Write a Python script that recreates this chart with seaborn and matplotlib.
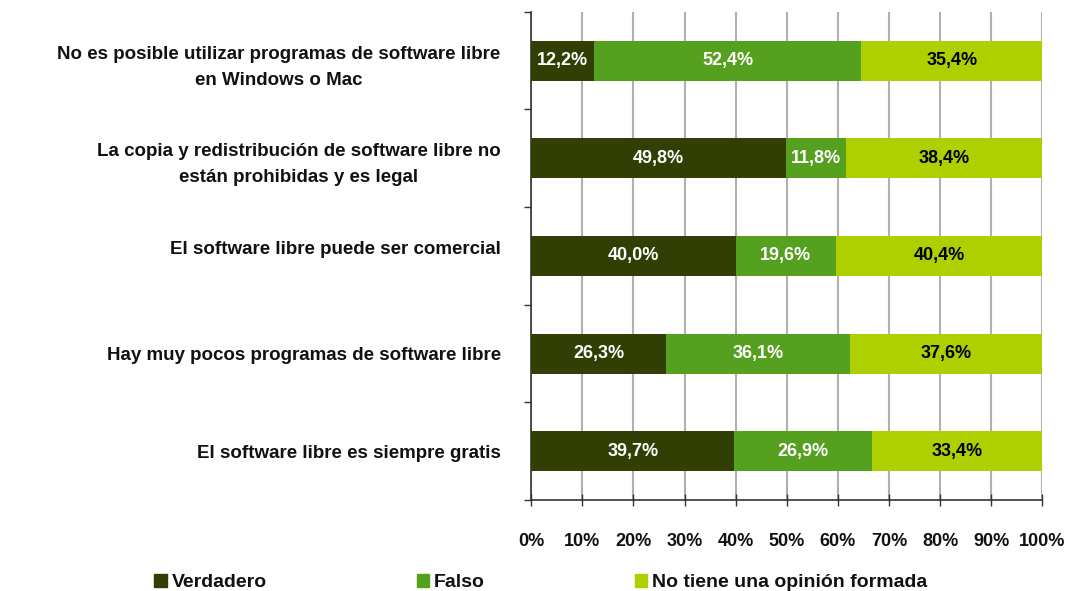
import matplotlib
matplotlib.use("Agg")
import matplotlib.pyplot as plt
import matplotlib.patches as mpatches
import seaborn as sns
import pandas as pd
import numpy as np

categories = [
    "No es posible utilizar programas de software libre\nen Windows o Mac",
    "La copia y redistribución de software libre no\nestán prohibidas y es legal",
    "El software libre puede ser comercial\n",
    "Hay muy pocos programas de software libre",
    "El software libre es siempre gratis",
]
verdadero = [12.2, 49.8, 40.0, 26.3, 39.7]
falso = [52.4, 11.8, 19.6, 36.1, 26.9]
no_opinion = [35.4, 38.4, 40.4, 37.6, 33.4]
series_names = ["Verdadero", "Falso", "No tiene una opinión formada"]
colors = ["#313F04", "#56A01F", "#AECF00"]
xticks = list(range(0, 101, 10))

sns.set_theme(style="white")
plt.rcParams["font.family"] = ["Liberation Sans", "DejaVu Sans"]
plt.rcParams["font.weight"] = "bold"
plt.rcParams["text.color"] = "#111111"
plt.rcParams["xtick.color"] = "#111111"
plt.rcParams["ytick.color"] = "#111111"

df = pd.DataFrame({"cat": categories, "v": verdadero, "f": falso, "n": no_opinion})
df["c1"] = df["v"]
df["c2"] = df["v"] + df["f"]
df["c3"] = df["v"] + df["f"] + df["n"]

fig = plt.figure(figsize=(10.69, 5.91), dpi=100)
ax = fig.add_axes([0.497, 0.154, 0.478, 0.826])

w = 0.41
for col, c in zip(["c3", "c2", "c1"], colors[::-1]):
    sns.barplot(data=df, y="cat", x=col, color=c, orient="h", width=w, ax=ax,
                saturation=1, linewidth=0, zorder=3)

for i in range(len(categories)):
    starts = [0, verdadero[i], verdadero[i] + falso[i]]
    vals = [verdadero[i], falso[i], no_opinion[i]]
    for j in range(3):
        txt = f"{vals[j]:.1f}%".replace(".", ",")
        ax.text(starts[j] + vals[j] / 2, i, txt, ha="center", va="center",
                color="white" if j < 2 else "black", fontsize=13, fontweight="bold", zorder=5)

ax.set_xlim(0, 100)
ax.set_ylim(len(categories) - 0.5, -0.5)
ax.set_xticks(xticks)
ax.set_xticklabels([f"{t}%" for t in xticks], fontsize=13, fontweight="bold")
ax.xaxis.grid(True, color="#B0B0B0", linewidth=1.5, zorder=0)
ax.set_axisbelow(True)
ax.tick_params(axis="x", direction="inout", length=8, width=1, color="#333333", pad=20, bottom=True)
ax.set_yticks(range(len(categories)))
ax.set_yticklabels(categories, fontsize=13.5, fontweight="bold")
ax.set_yticks(np.arange(-0.5, len(categories), 1), minor=True)
ax.tick_params(axis="y", which="major", length=0, pad=22)
ax.tick_params(axis="y", which="minor", left=True, length=5, width=1, color="#333333")
for lab in ax.get_yticklabels():
    lab.set_multialignment("center")
    lab.set_linespacing(1.7)
ax.set_xlabel("")
ax.set_ylabel("")
for s in ["top", "right"]:
    ax.spines[s].set_visible(False)
for s in ["left", "bottom"]:
    ax.spines[s].set_color("#333333")
    ax.spines[s].set_linewidth(1.2)

handles = [mpatches.Patch(color=c, label=n) for c, n in zip(colors, series_names)]
fig.legend(handles=handles, loc="lower left", bbox_to_anchor=(0.128, -0.03), ncol=3, frameon=False,
           prop={"size": 14, "weight": "bold"}, handlelength=0.65, handleheight=0.65,
           handletextpad=0.25, columnspacing=7.7)

fig.savefig("out.png", dpi=100)
